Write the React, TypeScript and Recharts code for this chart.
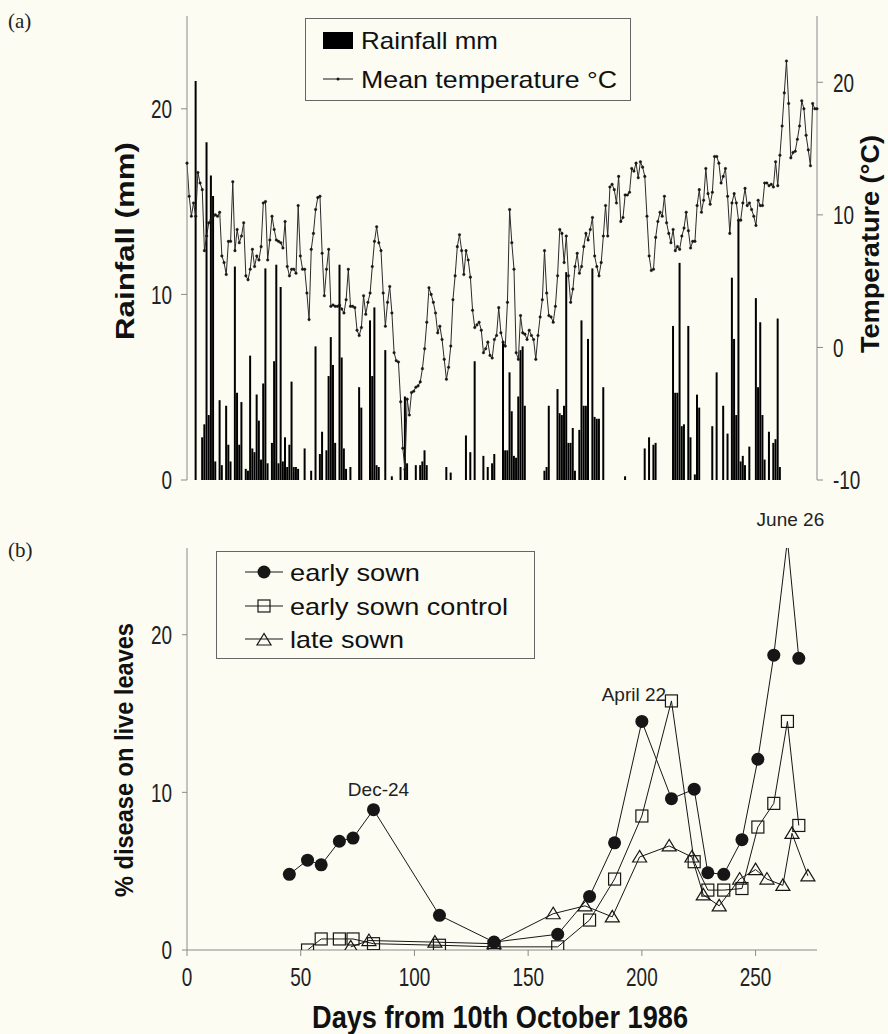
import React from 'react';
import { ComposedChart, LineChart, Bar, Line, XAxis, YAxis, Legend, LabelList } from 'recharts';

// Mean daily temperature (°C), one value per day of the record
const TEMP_C = [
  13.9, 11.4, 9.9, 10.9, 9.9, 13.2, 12.4, 11.9, 7.3, 8.4,
  9.4, 9.6, 9.9, 10.0, 9.9, 10.2, 6.9, 6.4, 5.5, 8.0,
  8.0, 12.5, 7.3, 8.9, 7.9, 8.4, 9.4, 5.4, 5.1, 5.9,
  7.4, 6.1, 6.9, 6.6, 7.6, 10.9, 11.0, 6.6, 8.1, 9.9,
  8.9, 8.1, 8.0, 7.9, 7.5, 9.5, 6.1, 5.4, 5.9, 5.9,
  5.6, 10.7, 6.9, 5.9, 5.9, 4.1, 2.1, 7.4, 8.6, 10.4,
  11.3, 11.4, 7.1, 3.9, 5.9, 7.4, 3.1, 3.2, 3.1, 3.1,
  3.2, 2.9, 2.6, 3.6, 5.9, 3.1, 3.1, 3.0, 1.3, 0.9,
  1.5, 3.9, 2.5, 3.4, 4.1, 6.1, 8.0, 9.1, 7.9, 7.3,
  4.1, 1.6, 3.4, 4.6, 2.6, -0.4, -1.0, -1.1, -4.1, -7.6,
  -9.2, -3.9, -5.1, -3.4, -3.3, -3.0, -2.9, -2.6, -1.6, -0.1,
  1.9, 4.5, 4.0, 3.4, 2.6, 1.1, 1.6, 0.6, -0.9, -2.4,
  -1.5, 0.1, 3.6, 5.4, 7.6, 8.5, 7.3, 5.5, 7.3, 6.6,
  5.3, 2.8, 1.5, 1.7, 1.9, 1.3, -0.4, -0.1, 0.4, -0.6,
  -0.8, 0.6, 0.9, 3.0, 1.1, 0.4, 0.1, 3.4, 10.4,
  7.9, 5.9, -0.4, -0.9, 2.4, 1.1, 1.0, 0.6, 1.3, 0.9,
  0.6, -0.9, 0.9, 2.3, 3.6, 7.3, 4.1, 2.4, 2.3, 1.9,
  3.1, 5.4, 8.9, 8.6, 6.4, 8.4, 5.4, 3.4, 4.4, 6.1,
  7.1, 5.6, 6.1, 7.6, 8.6, 8.1, 8.9, 9.8, 6.9, 6.1,
  5.4, 6.4, 8.4, 10.7, 8.4, 12.1, 12.3, 11.9, 10.9, 12.9,
  9.5, 9.8, 11.5, 11.5, 11.7, 13.5, 13.3, 13.9, 12.8, 14.0,
  13.6, 12.9, 9.9, 6.9, 5.8, 5.9, 8.3, 9.5, 10.2, 9.9,
  11.4, 9.4, 8.6, 7.9, 8.9, 7.3, 7.6, 7.4, 8.4, 9.0,
  10.2, 8.8, 7.5, 8.0, 8.0, 10.7, 11.9, 10.2, 11.1, 13.5,
  11.6, 10.8, 11.7, 14.4, 14.4, 13.9, 12.4, 12.9, 13.5, 11.4,
  8.6, 10.9, 11.6, 10.9, 9.6, 9.6, 10.9, 12.0, 10.7, 10.9,
  10.4, 9.9, 9.2, 11.1, 10.7, 10.7, 12.4, 12.4, 12.2, 12.3,
  12.1, 14.0, 12.2, 14.5, 16.7, 19.2, 21.6, 18.4, 14.3, 14.7,
  14.8, 15.7, 16.7, 18.6, 18.0, 16.0, 14.9, 13.7, 18.4, 18.0,
  18.0,
];

// Days with rain and the amount that fell (mm)
const RAIN_DAY = [
  4, 7, 8, 9, 10, 11, 12, 13, 15, 16, 18, 19, 20, 22, 23, 24, 25, 27, 28, 29,
  30, 31, 32, 33, 34, 35, 36, 37, 39, 40, 41, 42, 43, 44, 45, 46, 47, 48, 49, 50,
  51, 54, 57, 59, 61, 62, 64, 65, 66, 67, 68, 70, 71, 72, 73, 75, 79, 80, 84, 85,
  86, 87, 88, 91, 94, 98, 100, 101, 105, 107, 108, 109, 110, 119, 121, 128, 130, 132, 136, 138,
  140, 141, 145, 146, 147, 148, 149, 150, 151, 152, 153, 154, 155, 164, 165, 166, 170, 171, 172, 173,
  174, 175, 176, 177, 178, 180, 181, 182, 183, 184, 186, 187, 188, 189, 191, 201, 210, 212, 214, 215,
  223, 224, 225, 226, 227, 228, 230, 231, 233, 234, 235, 241, 243, 246, 248, 250, 251, 252, 253, 254,
  255, 256, 258, 261, 262, 263, 264, 265, 267, 269, 270, 271, 272,
];
const RAIN_MM = [
  21.5, 2.3, 3.0, 18.2, 3.5, 16.4, 15.3, 1.0, 4.3, 0.8, 4.0, 1.9, 1.0, 11.5, 4.7, 1.9, 4.2, 0.6, 0.5, 6.7,
  1.7, 1.5, 4.6, 3.2, 1.1, 5.2, 11.4, 0.9, 2.0, 6.4, 11.6, 0.9, 10.4, 1.0, 2.3, 0.7, 1.9, 5.3, 0.7, 0.7,
  0.6, 1.7, 0.5, 7.2, 1.4, 2.6, 1.6, 5.6, 7.7, 6.2, 2.0, 11.6, 6.6, 1.7, 0.6, 0.7, 5.0, 3.9, 8.6, 5.6,
  9.3, 0.8, 0.7, 7.0, 0.2, 0.7, 4.5, 0.9, 0.8, 0.8, 1.0, 1.6, 0.8, 0.7, 0.4, 2.4, 1.5, 6.4, 1.3, 0.7,
  0.9, 1.4, 7.4, 1.6, 1.6, 5.8, 3.7, 1.3, 1.2, 4.5, 7.0, 7.2, 4.0, 0.5, 0.7, 4.0, 4.9, 3.6, 3.5, 4.0,
  11.2, 2.0, 2.0, 2.8, 0.5, 2.7, 8.6, 4.0, 4.0, 7.6, 11.4, 3.4, 3.3, 3.3, 5.0, 0.2, 1.7, 2.3, 1.9, 2.0,
  8.3, 4.7, 4.7, 11.7, 2.9, 3.0, 8.3, 2.3, 0.3, 4.6, 3.9, 2.9, 5.8, 4.0, 2.5, 10.9, 7.6, 3.5, 14.0, 1.0,
  1.3, 0.8, 1.8, 9.8, 5.0, 8.5, 3.5, 1.1, 2.6, 2.0, 2.2, 8.7, 0.7,
];

// % disease on live leaves, by days from 10 October 1986
const EARLY_DAY = [45, 53, 59, 67, 73, 82, 111, 135, 163, 177, 188, 200, 213, 223, 229, 236, 244, 251, 258, 264, 269];
const EARLY_PCT = [4.8, 5.7, 5.4, 6.9, 7.1, 8.9, 2.2, 0.5, 1.0, 3.4, 6.8, 14.5, 9.6, 10.2, 4.9, 4.8, 7.0, 12.1, 18.7, 26.0, 18.5];
const CONTROL_DAY = [53, 59, 67, 73, 82, 111, 135, 163, 177, 188, 200, 213, 223, 229, 236, 244, 251, 258, 264, 269];
const CONTROL_PCT = [0.0, 0.7, 0.7, 0.7, 0.4, 0.3, 0.2, 0.2, 1.9, 4.5, 8.5, 15.8, 5.6, 3.8, 3.8, 3.9, 7.8, 9.3, 14.5, 7.9];
const LATE_DAY = [72, 80, 109, 135, 161, 175, 187, 199, 212, 222, 227, 234, 243, 250, 255, 262, 266, 273];
const LATE_PCT = [0.2, 0.6, 0.5, 0.4, 2.3, 2.8, 2.1, 5.9, 6.6, 5.9, 3.5, 2.8, 4.5, 5.1, 4.5, 4.1, 7.4, 4.7];

const NOTE_DAY = [82, 200, 264];
const NOTE_TEXT = ['Dec-24', 'April 22', 'June 26'];
const NOTE_DX = [5, -8, 3];
const NOTE_DY = [-14, -20, -14];

const RAIN_TICKS = [0, 10, 20];
const TEMP_TICKS = [-10, 0, 10, 20];
const PCT_TICKS = [0, 10, 20];
const DAY_TICKS = [0, 50, 100, 150, 200, 250];

const PAPER = '#fcfcf3';
const INK = '#161616';
const AXIS_GREY = '#8a8a8a';
const SANS = '"Liberation Sans", Arial, sans-serif';
const SERIF = '"Liberation Serif", "Times New Roman", serif';
const PCT_MAX = 25.5;

const rainOn = new Map(RAIN_DAY.map((d, i) => [d, RAIN_MM[i]]));
const weather = TEMP_C.map((temp, day) => ({ day, temp, rain: rainOn.get(day) ?? 0 }));
const toRows = (days: number[], pct: number[]) => days.map((day, i) => ({ day, pct: pct[i] }));
const early = toRows(EARLY_DAY, EARLY_PCT);
const control = toRows(CONTROL_DAY, CONTROL_PCT);
const late = toRows(LATE_DAY, LATE_PCT);

// narrow, tall tick numerals
function AxisTick(props: any) {
  const { x, y, payload, side } = props;
  const anchor = side === 'left' ? 'end' : side === 'right' ? 'start' : 'middle';
  const base = side === 'bottom' ? 22 : 7.8;
  return (
    <g transform={`translate(${x},${y}) scale(0.86,1.2)`}>
      <text x={0} y={base} textAnchor={anchor} fontFamily={SANS} fontSize={22} fill="#222">
        {payload.value}
      </text>
    </g>
  );
}

function SolidDot(props: any) {
  const { cx, cy, payload, index } = props;
  if (cx == null || cy == null || payload.pct > PCT_MAX) return <g key={`e${index}`} />;
  return <circle key={`e${index}`} cx={cx} cy={cy} r={6.5} fill={INK} />;
}

function SquareDot(props: any) {
  const { cx, cy, index } = props;
  if (cx == null || cy == null) return <g key={`c${index}`} />;
  return <rect key={`c${index}`} x={cx - 6} y={cy - 6} width={12} height={12} fill="none" stroke={INK} strokeWidth={1.2} />;
}

function TriangleDot(props: any) {
  const { cx, cy, index } = props;
  if (cx == null || cy == null) return <g key={`l${index}`} />;
  return (
    <polygon
      key={`l${index}`}
      points={`${cx},${cy - 6.5} ${cx - 7},${cy + 5} ${cx + 7},${cy + 5}`}
      fill="none"
      stroke={INK}
      strokeWidth={1.2}
    />
  );
}

function EarlyNote(props: any) {
  const k = NOTE_DAY.indexOf(EARLY_DAY[props.index]);
  if (k < 0) return null;
  const px = props.x ?? props.viewBox?.x;
  const py = props.y ?? props.viewBox?.y;
  return (
    <text x={px + NOTE_DX[k]} y={py + NOTE_DY[k]} textAnchor="middle" fontFamily={SANS} fontSize={19} fill="#222">
      {NOTE_TEXT[k]}
    </text>
  );
}

function WeatherKey() {
  return (
    <svg width={327} height={84} style={{ display: 'block' }}>
      <rect x={0.5} y={0.5} width={325} height={82} fill={PAPER} stroke="#666" />
      <rect x={18} y={14} width={30} height={17} fill="#000" />
      <text x={56} y={31} fontFamily={SANS} fontSize={24} fill="#111" textLength={137} lengthAdjust="spacingAndGlyphs">
        Rainfall mm
      </text>
      <line x1={18} x2={48} y1={61} y2={61} stroke={INK} strokeWidth={1} />
      <circle cx={33} cy={61} r={1.5} fill={INK} />
      <text x={56} y={70} fontFamily={SANS} fontSize={24} fill="#111" textLength={256} lengthAdjust="spacingAndGlyphs">
        Mean temperature °C
      </text>
    </svg>
  );
}

function DiseaseKey() {
  const rows = [
    { name: 'early sown', y: 21, w: 130 },
    { name: 'early sown control', y: 55, w: 218 },
    { name: 'late sown', y: 88, w: 114 },
  ];
  return (
    <svg width={320} height={109} style={{ display: 'block' }}>
      <rect x={0.5} y={0.5} width={318} height={107} fill={PAPER} stroke="#666" />
      {rows.map((r) => (
        <g key={r.name}>
          <line x1={29} x2={67} y1={r.y} y2={r.y} stroke={INK} strokeWidth={1} />
          <text x={74} y={r.y + 9} fontFamily={SANS} fontSize={24} fill="#111" textLength={r.w} lengthAdjust="spacingAndGlyphs">
            {r.name}
          </text>
        </g>
      ))}
      <circle cx={48} cy={21} r={6.5} fill={INK} />
      <rect x={42} y={49} width={12} height={12} fill="none" stroke={INK} strokeWidth={1.2} />
      <polygon points="48,82.5 41,94 55,94" fill="none" stroke={INK} strokeWidth={1.2} />
    </svg>
  );
}

export default function App() {
  return (
    <div style={{ position: 'absolute', left: 0, top: 0, width: 888, height: 1034, background: PAPER, overflow: 'hidden' }}>
      <div style={{ position: 'absolute', left: 0, top: 0 }}>
        <ComposedChart width={888} height={500} data={weather} margin={{ top: 16, right: 0, bottom: 20, left: 0 }}>
          <XAxis dataKey="day" type="number" domain={[0, 289]} hide />
          <YAxis
            yAxisId="rain"
            orientation="left"
            width={187}
            domain={[0, 25]}
            ticks={RAIN_TICKS}
            stroke={AXIS_GREY}
            tickSize={6}
            tickMargin={9}
            tick={(p: any) => <AxisTick {...p} side="left" />}
          />
          <YAxis
            yAxisId="temp"
            orientation="right"
            width={71}
            domain={[-10, 25]}
            ticks={TEMP_TICKS}
            stroke={AXIS_GREY}
            tickSize={6}
            tickMargin={10}
            tick={(p: any) => <AxisTick {...p} side="right" />}
          />
          <Bar yAxisId="rain" dataKey="rain" fill="#000" barSize={2} isAnimationActive={false} />
          <Line
            yAxisId="temp"
            dataKey="temp"
            stroke="#2a2a2a"
            strokeWidth={1}
            dot={{ r: 1.3, fill: INK, stroke: INK, strokeWidth: 0.4 }}
            isAnimationActive={false}
          />
          <Legend
            layout="horizontal"
            verticalAlign="middle"
            align="center"
            content={() => <WeatherKey />}
            wrapperStyle={{ left: 305, top: 18, width: 327 }}
          />
        </ComposedChart>
      </div>

      <div style={{ position: 'absolute', left: 0, top: 500 }}>
        <LineChart width={888} height={534} margin={{ top: 48, right: 71, bottom: 0, left: 0 }}>
          <XAxis
            dataKey="day"
            type="number"
            domain={[0, 277]}
            ticks={DAY_TICKS}
            height={84}
            stroke={AXIS_GREY}
            tickSize={6}
            tickMargin={4}
            tick={(p: any) => <AxisTick {...p} side="bottom" />}
          />
          <YAxis
            width={187}
            domain={[0, PCT_MAX]}
            allowDataOverflow
            ticks={PCT_TICKS}
            stroke={AXIS_GREY}
            tickSize={5}
            tickMargin={10}
            tick={(p: any) => <AxisTick {...p} side="left" />}
          />
          <Line data={control} dataKey="pct" stroke={INK} strokeWidth={1} dot={SquareDot} isAnimationActive={false} />
          <Line data={late} dataKey="pct" stroke={INK} strokeWidth={1} dot={TriangleDot} isAnimationActive={false} />
          <Line data={early} dataKey="pct" stroke={INK} strokeWidth={1} dot={SolidDot} isAnimationActive={false}>
            <LabelList dataKey="pct" content={EarlyNote} />
          </Line>
          <Legend
            layout="horizontal"
            verticalAlign="middle"
            align="center"
            content={() => <DiseaseKey />}
            wrapperStyle={{ left: 216, top: 51, width: 320 }}
          />
        </LineChart>
      </div>

      <svg width={888} height={1034} style={{ position: 'absolute', left: 0, top: 0, pointerEvents: 'none' }}>
        <text x={8} y={28} fontFamily={SERIF} fontSize={21} fill="#222">(a)</text>
        <text x={8} y={557} fontFamily={SERIF} fontSize={21} fill="#222">(b)</text>
        <text
          transform="translate(134,241) rotate(-90)"
          textAnchor="middle"
          fontFamily={SANS}
          fontWeight={700}
          fontSize={26}
          fill="#111"
          textLength={198}
          lengthAdjust="spacingAndGlyphs"
        >
          Rainfall (mm)
        </text>
        <text
          transform="translate(879,244) rotate(-90)"
          textAnchor="middle"
          fontFamily={SANS}
          fontWeight={700}
          fontSize={25}
          fill="#111"
          textLength={218}
          lengthAdjust="spacingAndGlyphs"
        >
          Temperature (°C)
        </text>
        <text
          transform="translate(133,760) rotate(-90)"
          textAnchor="middle"
          fontFamily={SANS}
          fontWeight={700}
          fontSize={25}
          fill="#111"
          textLength={274}
          lengthAdjust="spacingAndGlyphs"
        >
          % disease on live leaves
        </text>
        <text
          transform="translate(500,1028) scale(1,1.2)"
          textAnchor="middle"
          fontFamily={SANS}
          fontWeight={700}
          fontSize={26}
          fill="#111"
          textLength={376}
          lengthAdjust="spacingAndGlyphs"
        >
          Days from 10th October 1986
        </text>
      </svg>
    </div>
  );
}
